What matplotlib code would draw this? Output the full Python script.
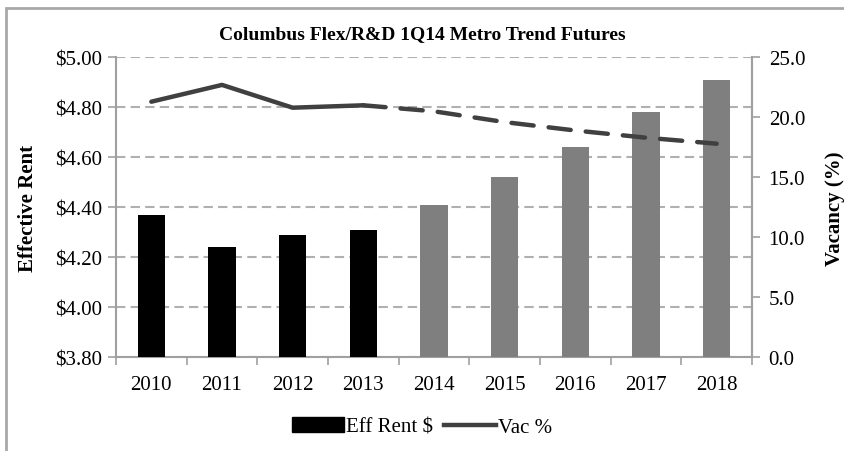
import matplotlib
matplotlib.use('Agg')
import matplotlib.pyplot as plt
import matplotlib.patches as mpatches
from matplotlib.lines import Line2D
from matplotlib.ticker import FormatStrFormatter

# chart data
years = ['2010', '2011', '2012', '2013', '2014', '2015', '2016', '2017', '2018']
eff_rent = [4.37, 4.24, 4.29, 4.31, 4.41, 4.52, 4.64, 4.78, 4.91]
vac_pct = [21.3, 22.7, 20.8, 21.0, 20.5, 19.6, 18.9, 18.3, 17.8]
n_actual = 4  # 2010-2013 are actuals, rest forecast

plt.rcParams['font.family'] = ['Liberation Serif', 'DejaVu Serif']

fig = plt.figure(figsize=(8.44, 4.52), dpi=100)
ax = fig.add_axes([116/844, 1 - 358.3/452, (752 - 116)/844, 300/452])

x = list(range(len(years)))
bar_colors = ['black'] * n_actual + ['#7f7f7f'] * (len(years) - n_actual)
ax.bar(x, [r - 3.80 for r in eff_rent], bottom=3.80, width=0.39, color=bar_colors, zorder=3)

ax.set_ylim(3.80, 5.00)
ax.set_xlim(-0.5, len(years) - 0.5)
ax.set_yticks([3.80, 4.00, 4.20, 4.40, 4.60, 4.80, 5.00])
ax.set_yticklabels([f'${v:.2f}' for v in [3.80, 4.00, 4.20, 4.40, 4.60, 4.80, 5.00]])
ax.set_xticks(x)
ax.set_xticklabels(years)
ax.set_xticks([i - 0.5 for i in range(len(years) + 1)], minor=True)
ax.tick_params(axis='x', which='major', length=0, labelsize=15, pad=13)
ax.tick_params(axis='x', which='minor', length=6, color='#a0a0a0', width=1.2)
ax.tick_params(axis='y', length=6, color='#a0a0a0', width=1.2, labelsize=15, pad=4)
ax.grid(axis='y', color='#b0b0b0', linestyle=(0, (4.5, 2.5)), linewidth=1.5, zorder=0)
ax.set_axisbelow(True)
ax.spines['top'].set_visible(False)
for s in ['left', 'bottom', 'right']:
    ax.spines[s].set_color('#a0a0a0')
    ax.spines[s].set_linewidth(1.5)
ax.set_ylabel('Effective Rent', fontsize=15, fontweight='bold', labelpad=12)

ax2 = ax.twinx()
ax2.set_ylim(0, 25)
ax2.set_yticks([0, 5, 10, 15, 20, 25])
ax2.yaxis.set_major_formatter(FormatStrFormatter('%.1f'))
ax2.tick_params(axis='y', length=6, color='#a0a0a0', width=1.2, labelsize=15, pad=6)
for s in ['top', 'left', 'bottom']:
    ax2.spines[s].set_visible(False)
ax2.spines['right'].set_color('#a0a0a0')
ax2.spines['right'].set_linewidth(1.5)
ax2.set_ylabel('Vacancy (%)', fontsize=15, fontweight='bold', labelpad=14)

line_col = '#404040'
ax2.plot(x[:n_actual], vac_pct[:n_actual], color=line_col, linewidth=3.2,
         solid_capstyle='round', solid_joinstyle='round', zorder=4)
ax2.plot(x[n_actual - 1:], vac_pct[n_actual - 1:], color=line_col, linewidth=3.2,
         linestyle=(0, (5, 3.4)), dash_capstyle='round', zorder=4)

fig.suptitle('Columbus Flex/R&D 1Q14 Metro Trend Futures', x=0.5, y=1 - 35/452,
             va='center', fontsize=14, fontweight='bold')

handles = [mpatches.Patch(color='black', label='Eff Rent $'),
           Line2D([0], [0], color=line_col, linewidth=3.2, label='Vac %')]
fig.legend(handles=handles, loc='center', bbox_to_anchor=(0.5, 1 - 428/452), ncol=2,
           frameon=False, fontsize=15, handlelength=2.5, handletextpad=0.1,
           columnspacing=0.5)

# outer frame (cropped on right and bottom like the source)
frame = mpatches.Rectangle((6/844, -0.1), 1.0, 1 - 9/452 + 0.1, transform=fig.transFigure,
                           fill=False, edgecolor='#a8a8a8', linewidth=2.0)
fig.patches.append(frame)

fig.savefig('out.png', dpi=100, facecolor='white')
